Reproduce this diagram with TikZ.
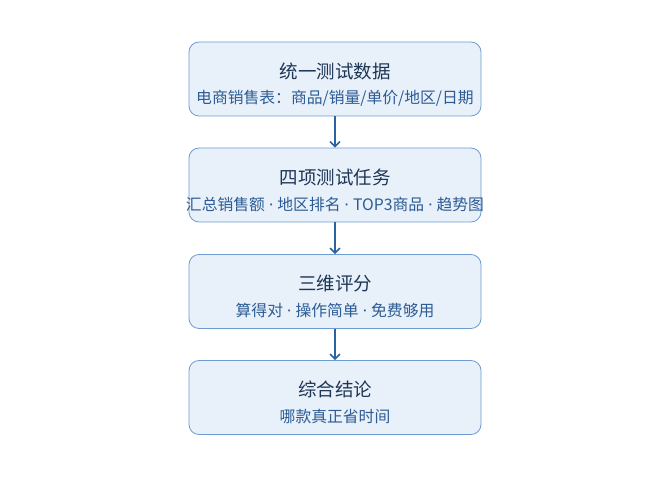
\documentclass[tikz,border=0pt]{standalone}
\usepackage{fontspec}
\setmainfont{Noto Sans CJK SC}
\newfontfamily\latinfont{Noto Sans}
\usetikzlibrary{arrows.meta}

\definecolor{boxfill}{HTML}{E8F0FA}
\definecolor{boxline}{HTML}{6E9CD2}
\definecolor{arrowcol}{HTML}{2C62A0}
\definecolor{titlecol}{HTML}{1E3656}
\definecolor{subcol}{HTML}{2C5C94}

\newcommand{\middot}{{\latinfont\ ·\ }}

\tikzset{
  stage/.style={draw=boxline,fill=boxfill,line width=0.8pt,rounded corners=10pt,
    minimum width=292pt,minimum height=74pt,inner sep=0pt},
  ttl/.style={text=titlecol,font=\fontsize{18.5}{20}\selectfont},
  sub/.style={text=subcol,font=\fontsize{15.8}{17}\selectfont},
}

\begin{document}
\begin{tikzpicture}[x=1pt,y=-1pt]
\useasboundingbox (0,0) rectangle (670,481);
\node[stage] (S1)at(335,79){};
\node[stage] (S2)at(335,185){};
\node[stage] (S3)at(335,291.5){};
\node[stage] (S4)at(335,397.5){};
\node[ttl] (T1)at(335,71){统一测试数据};
\node[sub] (U1)at(335,98){电商销售表：商品/销量/单价/地区/日期};
\node[ttl] (T2)at(335,177){四项测试任务};
\node[sub] (U2)at(335,204){汇总销售额\middot 地区排名\middot TOP3商品\middot 趋势图};
\node[ttl] (T3)at(335,283.5){三维评分};
\node[sub] (U3)at(335,310.5){算得对\middot 操作简单\middot 免费够用};
\node[ttl] (T4)at(335,389.5){综合结论};
\node[sub] (U4)at(335,416.5){哪款真正省时间};
\draw[-{Straight Barb[length=5pt,width=10pt]},arrowcol,line width=1.5pt] (S1) to (S2);
\draw[-{Straight Barb[length=5pt,width=10pt]},arrowcol,line width=1.5pt] (S2) to (S3);
\draw[-{Straight Barb[length=5pt,width=10pt]},arrowcol,line width=1.5pt] (S3) to (S4);
\end{tikzpicture}
\end{document}
